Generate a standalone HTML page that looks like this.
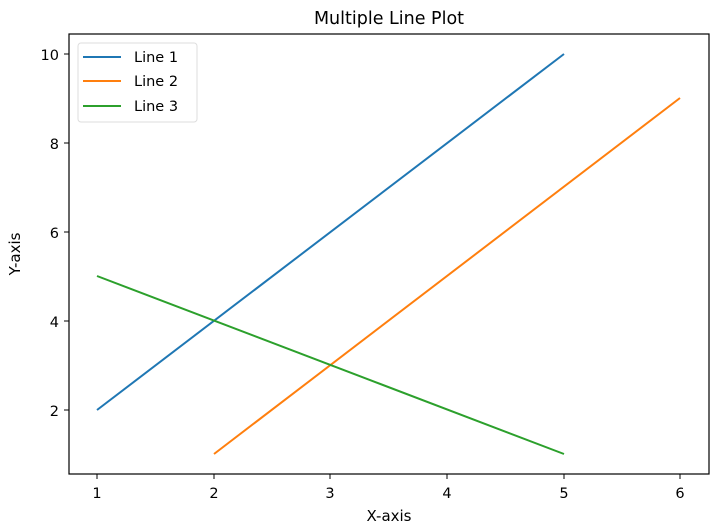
<!DOCTYPE html>
<html><head><meta charset="utf-8"><style>body{margin:0;background:#fff}svg{display:block}text{font-family:"DejaVu Sans",sans-serif;fill:#000}</style></head><body>
<svg width="715" height="525" viewBox="0 0 715 525">
<rect x="69" y="34" width="640" height="440" fill="none" stroke="#000" stroke-width="1.2"/>
<text x="389" y="24" font-size="17.5" text-anchor="middle">Multiple Line Plot</text>
<g stroke="#000" stroke-width="1">
<line x1="97" y1="474" x2="97" y2="479"/><line x1="214" y1="474" x2="214" y2="479"/><line x1="330" y1="474" x2="330" y2="479"/><line x1="447" y1="474" x2="447" y2="479"/><line x1="564" y1="474" x2="564" y2="479"/><line x1="680" y1="474" x2="680" y2="479"/>
<line x1="64" y1="54" x2="69" y2="54"/><line x1="64" y1="143" x2="69" y2="143"/><line x1="64" y1="232" x2="69" y2="232"/><line x1="64" y1="321" x2="69" y2="321"/><line x1="64" y1="410" x2="69" y2="410"/>
</g>
<g font-size="14.5" text-anchor="middle">
<text x="97" y="498">1</text><text x="214" y="498">2</text><text x="330" y="498">3</text><text x="447" y="498">4</text><text x="564" y="498">5</text><text x="680" y="498">6</text>
</g>
<g font-size="14.5" text-anchor="end">
<text x="59" y="60">10</text><text x="59" y="149">8</text><text x="59" y="238">6</text><text x="59" y="327">4</text><text x="59" y="416">2</text>
</g>
<text x="389" y="521" font-size="15" text-anchor="middle">X-axis</text>
<text transform="translate(20,254) rotate(-90)" font-size="15" text-anchor="middle">Y-axis</text>
<g fill="none" stroke-width="2">
<polyline points="97,410 564,54" stroke="#1f77b4"/>
<polyline points="214,454 680,98" stroke="#ff7f0e"/>
<polyline points="97,276 564,454" stroke="#2ca02c"/>
</g>
<rect x="78" y="43" width="119" height="79" rx="3" fill="#fff" stroke="#ddd"/>
<line x1="83" y1="57" x2="121" y2="57" stroke="#1f77b4" stroke-width="2"/>
<line x1="83" y1="81" x2="121" y2="81" stroke="#ff7f0e" stroke-width="2"/>
<line x1="83" y1="106" x2="121" y2="106" stroke="#2ca02c" stroke-width="2"/>
<g font-size="14.5"><text x="134" y="62">Line 1</text><text x="134" y="86">Line 2</text><text x="134" y="111">Line 3</text></g>
</svg>
</body></html>
